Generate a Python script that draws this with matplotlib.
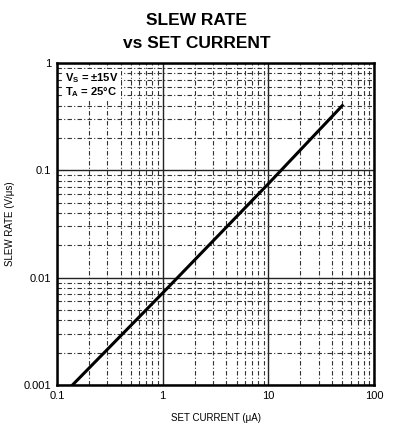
import matplotlib.pyplot as plt
import matplotlib.ticker as mticker
import numpy as np

# set current (uA) vs slew rate (V/us)
current = [0.14, 1.0, 10.0, 50.0]
slew = [0.001, 0.0072, 0.075, 0.40]

xticks = [0.1, 1, 10, 100]
xticklabels = ["0.1", "1", "10", "100"]
yticks = [0.001, 0.01, 0.1, 1]
yticklabels = ["0.001", "0.01", "0.1", "1"]

plt.rcParams['font.family'] = ['Liberation Sans', 'DejaVu Sans']

fig = plt.figure(figsize=(3.93, 4.25), dpi=100)
ax = fig.add_axes([0.145, 0.094, 0.807, 0.758])

ax.set_xscale("log")
ax.set_yscale("log")
ax.set_xlim(0.1, 100)
ax.set_ylim(0.001, 1)

ax.grid(which="major", color="#222222", linewidth=1.0, linestyle="-", zorder=0)
ax.grid(which="minor", color="#333333", linewidth=0.8, linestyle=(0, (4, 2, 1, 2)), zorder=0)

ax.plot(current, slew, color="black", linewidth=2.2, zorder=5)

ax.set_xticks(xticks)
ax.set_xticklabels(xticklabels)
ax.set_yticks(yticks)
ax.set_yticklabels(yticklabels)
ax.xaxis.set_minor_formatter(mticker.NullFormatter())
ax.yaxis.set_minor_formatter(mticker.NullFormatter())
ax.tick_params(which="both", length=0, labelsize=8, pad=4)

for s in ax.spines.values():
    s.set_linewidth(1.8)

ax.text(0.025, 0.975, "V$_\\mathregular{S}$ = ±15V\nT$_\\mathregular{A}$ = 25°C",
        transform=ax.transAxes, ha="left", va="top", fontsize=8, fontweight="bold",
        linespacing=1.0, zorder=6,
        bbox=dict(facecolor="white", edgecolor="none", pad=1.5))

ax.set_xlabel("SET CURRENT (μA)", fontsize=7, labelpad=9)
ax.set_ylabel("SLEW RATE (V/μs)", fontsize=7, labelpad=6)

fig.text(0.5, 0.952, "SLEW RATE", ha="center", va="center", fontsize=12.5, fontweight="bold")
fig.text(0.5, 0.897, "vs SET CURRENT", ha="center", va="center", fontsize=12.5, fontweight="bold")

fig.savefig("out.png", dpi=100)
plt.close()
